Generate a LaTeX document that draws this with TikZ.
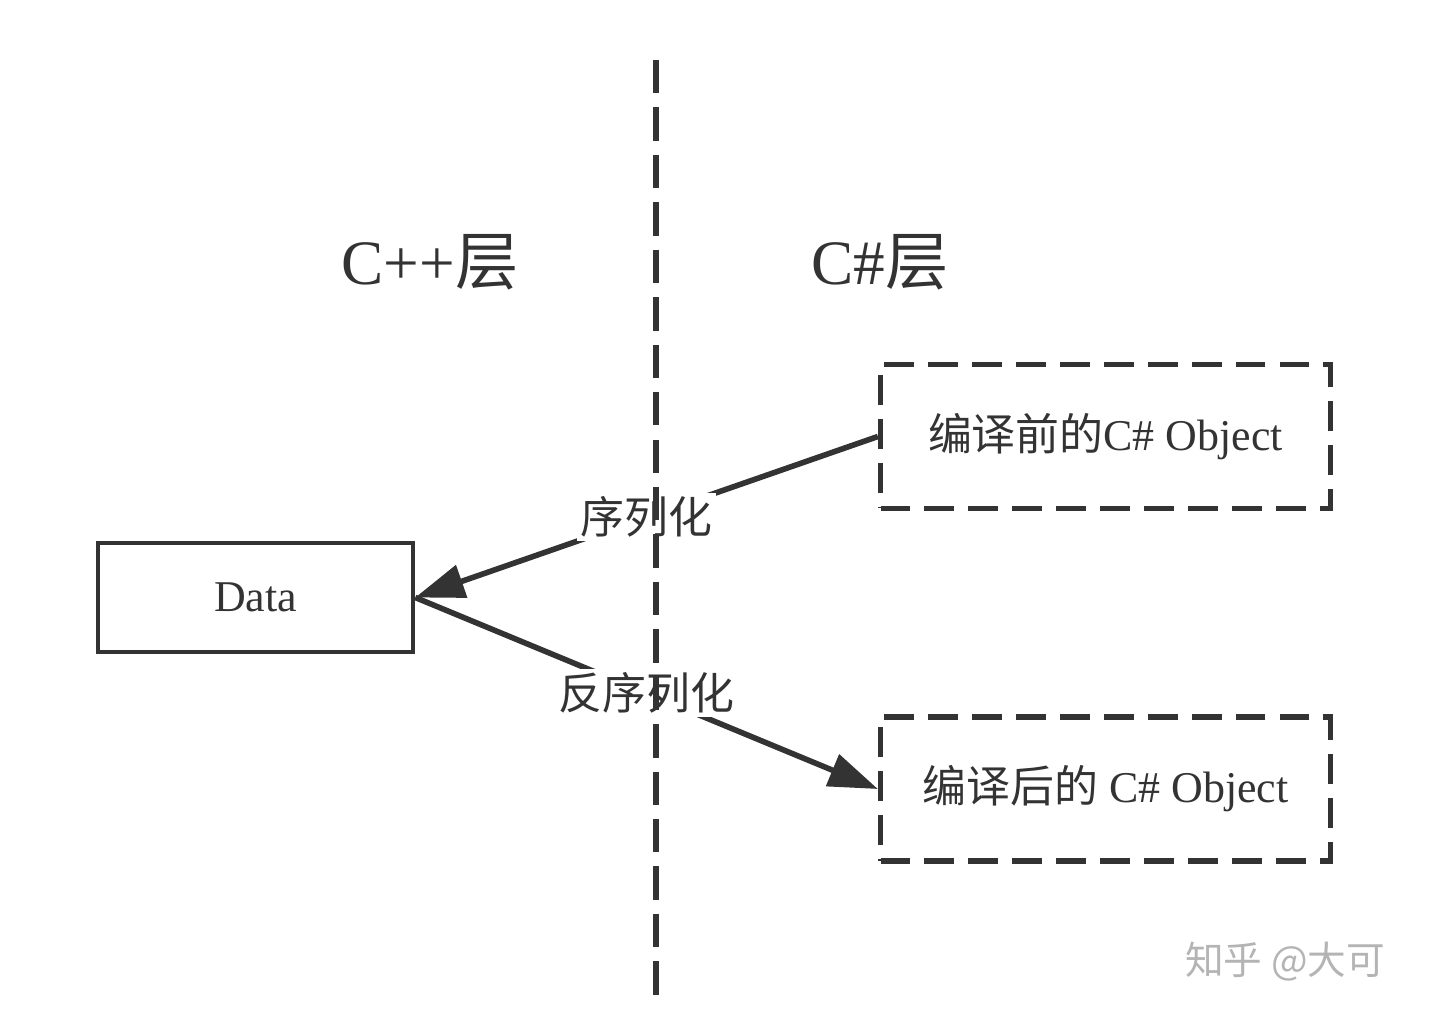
\documentclass[tikz,border=0pt]{standalone}
\usepackage{fontspec}
\setmainfont{Liberation Serif}
\newfontfamily\cjk{Noto Sans CJK SC}
\usetikzlibrary{arrows.meta}
\definecolor{ink}{HTML}{333333}
\definecolor{mark}{HTML}{B4B4B4}

\begin{document}
\begin{tikzpicture}[x=0.02cm,y=-0.02cm,
  solidbox/.style={draw=ink,line width=2.6pt,minimum width=6.3cm,minimum height=2.18cm,font=\fontsize{25}{28}\selectfont,text=ink},
  dashbox/.style={draw=ink,line width=3pt,dash pattern=on 17pt off 8pt,minimum width=9cm,minimum height=2.88cm,font=\fontsize{25}{28}\selectfont,text=ink},
  flow/.style={draw=ink,line width=3.2pt,-{Triangle[length=28pt,width=19pt]}},
  flowlabel/.style={fill=white,inner sep=2pt,font=\fontsize{25}{28}\selectfont\cjk,text=ink},
  layer/.style={font=\fontsize{36}{40}\selectfont,text=ink}]

 \useasboundingbox (0,0) rectangle (1434,1020);

 \node[layer] (cpp) at (430,262) {C++{\cjk 层}};
  \node[layer] (cs) at (880,262) {C\#{\cjk 层}};
   \node[solidbox] (data) at (255.5,597.5) {Data};
    \node[dashbox] (before) at (1105.5,436.5) {{\cjk 编译前的}C\# Object};
     \node[dashbox] (after) at (1105.5,789) {{\cjk 编译后的} C\# Object};
      \node[font=\fontsize{22}{24}\selectfont\cjk,text=mark] (zhihu) at (1285,962) {知乎 @大可};

 \coordinate (top) at (656,60);
 \coordinate (bottom) at (656,1000);

 \draw[flow] (before.west) -- node[flowlabel] (ser) {序列化} (data.east);
 \draw[flow] (data.east) -- node[flowlabel] (deser) {反序列化} (after.west);
\draw[ink,line width=3.4pt,dash pattern=on 19pt off 8pt] (top) -- (bottom);

\end{tikzpicture}
\end{document}
